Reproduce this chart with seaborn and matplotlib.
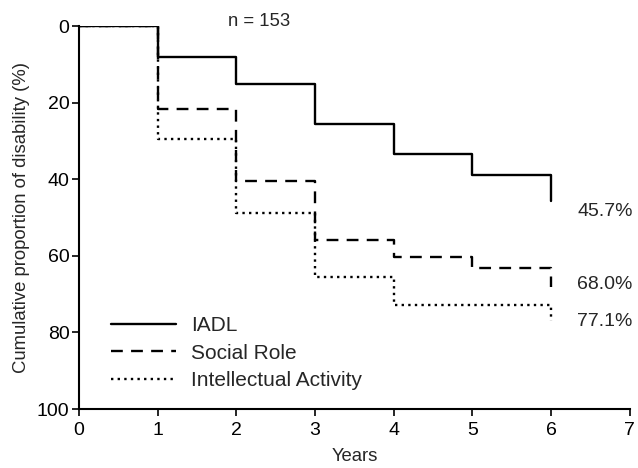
import pandas as pd
import matplotlib.pyplot as plt
import seaborn as sns

# Cumulative proportion of disability (%) by year
years = [0, 1, 2, 3, 4, 5, 6]
iadl = [0, 8.0, 15.0, 25.5, 33.4, 38.8, 45.7]
social_role = [0, 21.5, 40.5, 55.8, 60.3, 63.2, 68.0]
intellectual = [0, 29.5, 48.9, 65.5, 72.8, 72.8, 77.1]
end_labels = ['45.7%', '68.0%', '77.1%']

sns.set_theme(style='ticks')
plt.rcParams['font.family'] = ['Liberation Sans', 'DejaVu Sans']

fig = plt.figure(figsize=(6.38, 4.68), dpi=100)
ax = fig.add_axes([0.124, 0.126, 0.863, 0.818])

series = [
    ('IADL', iadl, '-'),
    ('Social Role', social_role, (0, (5, 3.5))),
    ('Intellectual Activity', intellectual, (0, (1, 1.8))),
]

for name, vals, ls in series:
    df = pd.DataFrame({'year': years, 'value': vals})
    sns.lineplot(data=df, x='year', y='value', ax=ax, color='black',
                 linewidth=1.7, linestyle=ls, drawstyle='steps-post', label=name)

# percentage labels at the end of each curve (first one sits a bit lower)
label_shift = [2.8, -0.5, 0]
for (name, vals, ls), lab, dy in zip(series, end_labels, label_shift):
    ax.text(6.33, vals[-1] + dy, lab, fontsize=14, va='center', ha='left', clip_on=False)

ax.text(2.29, -1.2, 'n = 153', fontsize=13.3, ha='center', va='center', clip_on=False)

ax.set_xlim(0, 7)
ax.set_ylim(100, 0)
ax.set_xticks(range(0, 8))
ax.set_yticks(range(0, 101, 20))
ax.set_xlabel('Years', fontsize=13.3, labelpad=7)
ax.set_ylabel('Cumulative proportion of disability (%)', fontsize=13.3, labelpad=5)
ax.tick_params(labelsize=14, length=5, width=1.2, colors='black', pad=2)
ax.tick_params(axis='x', pad=4)
for s in ['left', 'bottom']:
    ax.spines[s].set_linewidth(1.5)
    ax.spines[s].set_color('black')
sns.despine(ax=ax)

ax.legend(loc='center left', bbox_to_anchor=(0.024, 0.146), frameon=False, fontsize=15,
          handlelength=3.1, handletextpad=0.75, labelspacing=0.4, borderpad=0.4)

fig.savefig('out.png', dpi=100)
